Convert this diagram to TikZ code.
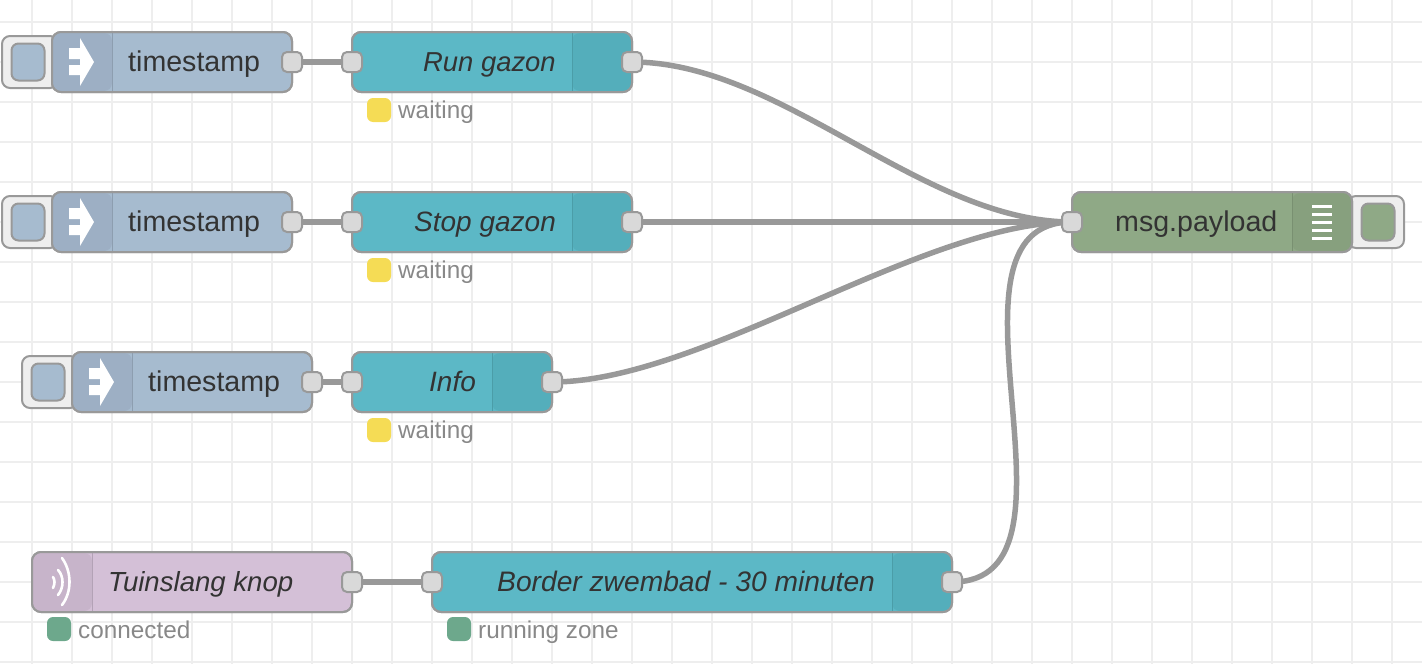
\documentclass[tikz,border=0pt]{standalone}
\usepackage{fontspec}
\setmainfont{Liberation Sans}
\usetikzlibrary{backgrounds}
\definecolor{gridc}{HTML}{EEEEEE}
\definecolor{edge}{HTML}{999999}
\definecolor{portc}{HTML}{D9D9D9}
\definecolor{injc}{HTML}{A6BBCF}
\definecolor{injd}{HTML}{9DAFC4}
\definecolor{tealc}{HTML}{5CB8C6}
\definecolor{teald}{HTML}{54AEBB}
\definecolor{debc}{HTML}{8FA986}
\definecolor{debd}{HTML}{87A07E}
\definecolor{purc}{HTML}{D4C0D7}
\definecolor{purd}{HTML}{C7B4CA}
\definecolor{txt}{HTML}{333333}
\definecolor{stxt}{HTML}{888888}
\definecolor{yel}{HTML}{F5DC55}
\definecolor{grn}{HTML}{6DA88C}
\tikzset{
  x=1pt,y=-1pt,
  flow/.style={draw=edge,line width=2pt,rounded corners=9pt,minimum height=60pt,inner sep=0,outer sep=0,anchor=center},
  port/.style={draw=edge,line width=2pt,fill=portc,rounded corners=5pt,minimum width=20pt,minimum height=20pt,inner sep=0,outer sep=0},
  btnout/.style={draw=edge,line width=2pt,fill=gridc,rounded corners=8pt,minimum width=56pt,minimum height=52pt,inner sep=0,outer sep=0},
  btnin/.style={draw=edge,line width=2pt,rounded corners=7pt,minimum width=33pt,minimum height=37pt,inner sep=0,outer sep=0},
  label/.style={anchor=base west,inner sep=0,text=txt,font=\fontsize{28.6}{30}\selectfont},
  ilabel/.style={anchor=base west,inner sep=0,text=txt,font=\fontsize{#1}{30}\selectfont\itshape},
  ilabel/.default=28,
  slabel/.style={anchor=base west,inner sep=0,text=stxt,font=\fontsize{24.3}{26}\selectfont},
  dot/.style={rounded corners=6pt,minimum width=24pt,minimum height=24pt,inner sep=0},
  wire/.style={draw=edge,line width=5.5pt},
  sep/.style={line width=1pt},
  glyph/.style={fill=white,draw=none},
  wave/.style={draw=white,line width=2.6pt,line cap=round},
}
\begin{document}
\begin{tikzpicture}
\useasboundingbox (0,0) rectangle (1422,664);
% injector buttons
\node[btnout] (b1) at (30,62) {};
\node[btnin,fill=injc] (bi1) at (28,62) {};
\node[btnout] (b2) at (30,222) {};
\node[btnin,fill=injc] (bi2) at (28,222) {};
\node[btnout] (b3) at (50,382) {};
\node[btnin,fill=injc] (bi3) at (48,382) {};
\node[btnout] (b4) at (1376,222) {};
\node[btnin,fill=debc] (bi4) at (1378,222) {};
% flow bodies
\node[flow,fill=injc,minimum width=240pt] (n1) at (172,62) {};
\node[flow,fill=tealc,minimum width=280pt] (f1) at (492,62) {};
\node[flow,fill=injc,minimum width=240pt] (n2) at (172,222) {};
\node[flow,fill=tealc,minimum width=280pt] (f2) at (492,222) {};
\node[flow,fill=injc,minimum width=240pt] (n3) at (192,382) {};
\node[flow,fill=tealc,minimum width=200pt] (f3) at (452,382) {};
\node[flow,fill=debc,minimum width=280pt] (d1) at (1212,222) {};
\node[flow,fill=purc,minimum width=320pt] (m1) at (192,582) {};
\node[flow,fill=tealc,minimum width=520pt] (f4) at (692,582) {};
% icon sections
\newcommand{\leftico}[4]{\fill[#4,rounded corners=8pt] (#1+1,#3-29) -- (#2,#3-29) -- (#2,#3+29) -- (#1+1,#3+29) -- cycle;
  \draw[#4!90!black,sep] (#2,#3-29) -- (#2,#3+29);}
\newcommand{\rightico}[4]{\fill[#4,rounded corners=8pt] (#1,#3-29) -- (#2-1,#3-29) -- (#2-1,#3+29) -- (#1,#3+29) -- cycle;
  \draw[#4!90!black,sep] (#1,#3-29) -- (#1,#3+29);}
\leftico{52}{112}{62}{injd}
\leftico{52}{112}{222}{injd}
\leftico{72}{132}{382}{injd}
\leftico{32}{92}{582}{purd}
\rightico{572}{632}{62}{teald}
\rightico{572}{632}{222}{teald}
\rightico{492}{552}{382}{teald}
\rightico{892}{952}{582}{teald}
\rightico{1292}{1352}{222}{debd}
% borders again
\foreach \n in {n1,f1,n2,f2,n3,f3,d1,m1,f4}{
  \draw[edge,line width=2pt,rounded corners=9pt] (\n.north west) rectangle (\n.south east);
}
% inject arrows
\foreach \ox/\oy in {52/62,52/222,72/382}{
  \fill[glyph,shift={(\ox,\oy)}] (17,-14) -- (28,-14) -- (28,-24) -- (42,0) -- (28,24) -- (28,13) -- (17,13) -- (17,3) -- (28,3) -- (28,-3) -- (17,-3) -- cycle;
}
% debug list icon
\foreach \yy in {206,214,222,230,238}{
  \fill[glyph] (1312,\yy-1.5) rectangle (1332,\yy+1.5);
}
% waves
\draw[wave] (62,558) .. controls (72,572) and (72,592) .. (62,605);
\draw[wave] (58,570) .. controls (64,576) and (64,588) .. (58,595);
\draw[wave] (53,577) .. controls (55,580) and (55,584) .. (53,588);
% ports
\node[port] (p1) at (292,62) {};
\node[port] (q1) at (352,62) {};
\node[port] (r1) at (632,62) {};
\node[port] (p2) at (292,222) {};
\node[port] (q2) at (352,222) {};
\node[port] (r2) at (632,222) {};
\node[port] (p3) at (312,382) {};
\node[port] (q3) at (352,382) {};
\node[port] (r3) at (552,382) {};
\node[port] (p4) at (352,582) {};
\node[port] (q4) at (432,582) {};
\node[port] (r4) at (952,582) {};
\node[port] (dbg) at (1072,222) {};
% labels
\node[label] (t1) at (128,71) {timestamp};
\node[label] (t2) at (128,231) {timestamp};
\node[label] (t3) at (148,391) {timestamp};
\node[ilabel=27.4] (t4) at (423,71) {Run gazon};
\node[ilabel=28] (t5) at (414,231) {Stop gazon};
\node[ilabel=28] (t6) at (429,391) {Info};
\node[ilabel=27.6] (t7) at (108,591) {Tuinslang knop};
\node[ilabel=28.2] (t8) at (497,591) {Border zwembad - 30 minuten};
\node[label] (t9) at (1115,231) {msg.payload};
% status
\node[dot,fill=yel] (s1) at (379,110) {};
\node[slabel] (st1) at (398,118) {waiting};
\node[dot,fill=yel] (s2) at (379,270) {};
\node[slabel] (st2) at (398,278) {waiting};
\node[dot,fill=yel] (s3) at (379,430) {};
\node[slabel] (st3) at (398,438) {waiting};
\node[dot,fill=grn] (s4) at (59,629) {};
\node[slabel] (st4) at (78,638) {connected};
\node[dot,fill=grn] (s5) at (459,629) {};
\node[slabel] (st5) at (478,638) {running zone};
% grid + wires behind
\begin{scope}[on background layer]
\foreach \gx in {32,72,...,1412}{\draw[gridc,line width=2pt] (\gx,0) -- (\gx,664);}
\foreach \gy in {22,62,...,662}{\draw[gridc,line width=2pt] (0,\gy) -- (1422,\gy);}
\draw[wire] (p1.center) -- (q1.center);
\draw[wire] (p2.center) -- (q2.center);
\draw[wire] (p3.center) -- (q3.center);
\draw[wire] (p4.center) -- (q4.center);
\draw[wire] (r2.center) -- (dbg.center);
\draw[wire] (r1.center) .. controls (782,62) and (922,222) .. (dbg.center);
\draw[wire] (r3.center) .. controls (702,382) and (922,222) .. (dbg.center);
\draw[wire] (r4.center) .. controls (1102,582) and (922,222) .. (dbg.center);
\end{scope}
\end{tikzpicture}
\end{document}
